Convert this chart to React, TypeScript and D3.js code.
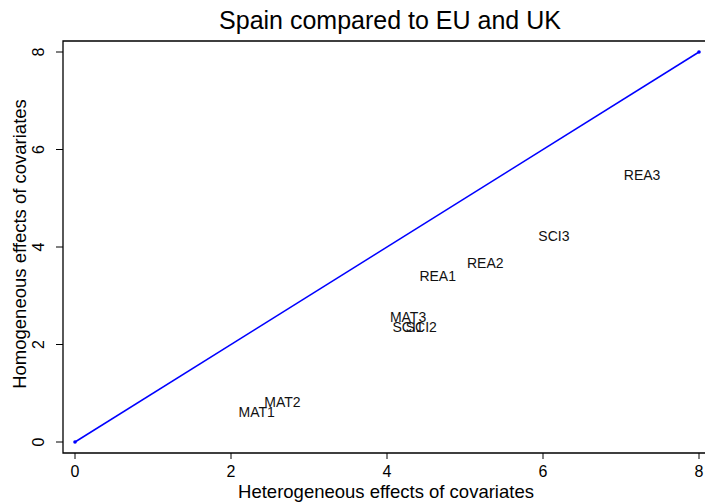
import React from "react";
import * as d3 from "d3";

const labels = ["MAT1", "MAT2", "MAT3", "REA1", "REA2", "REA3", "SCI1", "SCI2", "SCI3"];
const hetero = [2.33, 2.66, 4.27, 4.65, 5.26, 7.27, 4.27, 4.44, 6.14];
const homo = [0.62, 0.82, 2.56, 3.41, 3.67, 5.48, 2.35, 2.35, 4.23];
const ticks = [0, 2, 4, 6, 8];
const lineData: [number, number][] = [[0, 0], [8, 8]];

const W = 705, H = 504;
const FONT = "'Liberation Sans', Arial, Helvetica, sans-serif";

export default function App() {
  const x = d3.scaleLinear().domain([0, 8]).range([75, 699]);
  const y = d3.scaleLinear().domain([0, 8]).range([442, 52]);
  const line = d3.line<[number, number]>().x(d => x(d[0])).y(d => y(d[1]));
  const frameL = 63, frameT = 41, frameB = 453;
  return (
    <svg width={W} height={H} style={{ position: "absolute", left: 0, top: 0, background: "#fff" }} fontFamily={FONT}>
      <rect x={0} y={0} width={W} height={H} fill="#fff" />
      {/* frame */}
      <path d={`M${W + 2},${frameT}H${frameL}V${frameB}H${W + 2}`} fill="none" stroke="#000" strokeWidth={1.3} />
      {/* x ticks */}
      {ticks.map(t => (
        <g key={"x" + t}>
          <line x1={x(t)} x2={x(t)} y1={frameB} y2={frameB + 6} stroke="#000" strokeWidth={1} />
          <text x={x(t)} y={477} textAnchor="middle" fontSize={16}>{t}</text>
        </g>
      ))}
      {/* y ticks */}
      {ticks.map(t => (
        <g key={"y" + t}>
          <line x1={frameL - 7} x2={frameL} y1={y(t)} y2={y(t)} stroke="#000" strokeWidth={1} />
          <text transform={`translate(44,${y(t)}) rotate(-90)`} textAnchor="middle" fontSize={16}>{t}</text>
        </g>
      ))}
      {/* 45 degree line */}
      <path d={line(lineData) || ""} fill="none" stroke="#0000ff" strokeWidth={1.5} />
      {lineData.map((d, i) => (
        <circle key={"m" + i} cx={x(d[0])} cy={y(d[1])} r={1.8} fill="#0000ff" />
      ))}
      {/* labels */}
      {labels.map((l, i) => (
        <text key={l} x={x(hetero[i])} y={y(homo[i])} textAnchor="middle" dominantBaseline="central" fontSize={14} fill="#111">{l}</text>
      ))}
      {/* titles */}
      <text x={390} y={29} textAnchor="middle" fontSize={25}>Spain compared to EU and UK</text>
      <text x={386} y={498} textAnchor="middle" fontSize={18.5}>Heterogeneous effects of covariates</text>
      <text transform={`translate(26,244) rotate(-90)`} textAnchor="middle" fontSize={18.5}>Homogeneous effects of covariates</text>
    </svg>
  );
}
